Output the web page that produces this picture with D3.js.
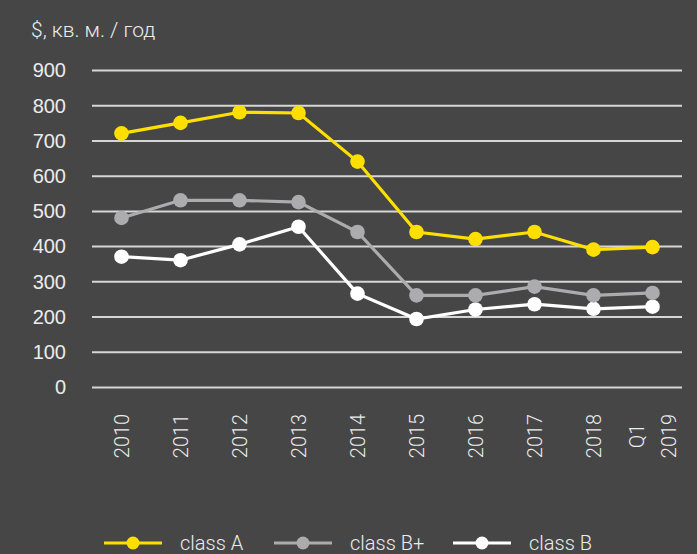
<!DOCTYPE html>
<html><head><meta charset="utf-8">
<script src="https://cdn.jsdelivr.net/npm/d3@7"></script>
<style>
html,body{margin:0;padding:0;background:#464646;}
svg{display:block;font-family:Roboto, "Noto Sans", sans-serif;}
</style></head>
<body>
<svg id="c" width="697" height="554"></svg>
<script>
const categories = ["2010","2011","2012","2013","2014","2015","2016","2017","2018","Q1 2019"];
const classA  = [720,750,780,778,640,440,420,440,390,397];
const classBp = [480,530,530,525,440,260,260,285,260,267];
const classB  = [370,360,405,455,265,193,220,235,222,228];
const yTicks  = [0,100,200,300,400,500,600,700,800,900];
const seriesNames = ["class A","class B+","class B"];
const seriesColors = ["#ffdf00","#acacae","#ffffff"];
const yTitle = "$, кв. м. / год";

const svg = d3.select("#c");
svg.append("rect").attr("width",697).attr("height",554).attr("fill","#464646");

const x = d3.scaleBand().domain(categories).range([92,682]);
const y = d3.scaleLinear().domain([0,900]).range([387,70]);
const txtCol = "#ececec";

const yAxis = d3.axisLeft(y).tickValues(yTicks).tickSize(0).tickPadding(26);
const gy = svg.append("g").attr("transform","translate(92,0)").call(yAxis);
gy.select(".domain").remove();
gy.selectAll("text").attr("fill",txtCol).style("font-size","20px").style("font-weight","300").attr("dy","0.34em");
gy.selectAll(".tick").append("line").attr("x1",0).attr("x2",590)
  .attr("stroke","#d6d6d6").attr("stroke-width",2);

svg.append("text").attr("x",31).attr("y",37).attr("fill",txtCol)
  .style("font-size","21px").style("font-weight","300").text(yTitle);

const xl = svg.append("g");
categories.forEach(c=>{
  const parts = c.split(" ");
  const cx = x(c)+x.bandwidth()/2;
  const t = xl.append("text")
    .attr("transform",`translate(${cx},436) rotate(-90)`)
    .attr("text-anchor","middle").attr("fill",txtCol)
    .style("font-size","20px").style("font-weight","300");
  if(parts.length===1){
    t.append("tspan").attr("x",0).attr("dy","0.36em").text(parts[0]);
  } else {
    t.append("tspan").attr("x",0).attr("dy","-0.44em").text(parts[0]);
    t.append("tspan").attr("x",0).attr("dy","1.6em").text(parts[1]);
  }
});

const data = [classA, classBp, classB];
const line = d3.line().x((d,i)=>x(categories[i])+x.bandwidth()/2).y(d=>y(d));
[2,1,0].forEach(k=>{
  const g = svg.append("g");
  g.append("path").datum(data[k]).attr("d",line).attr("fill","none")
    .attr("stroke",seriesColors[k]).attr("stroke-width",3.2);
  g.selectAll("circle").data(data[k]).join("circle")
    .attr("cx",(d,i)=>x(categories[i])+x.bandwidth()/2).attr("cy",d=>y(d))
    .attr("r",7.3).attr("fill",seriesColors[k]);
});

const legX = [104,274,453];
const leg = svg.append("g");
seriesNames.forEach((n,k)=>{
  const lx = legX[k];
  leg.append("line").attr("x1",lx).attr("x2",lx+58).attr("y1",543).attr("y2",543)
    .attr("stroke",seriesColors[k]).attr("stroke-width",3);
  leg.append("circle").attr("cx",lx+29).attr("cy",543).attr("r",6.5).attr("fill",seriesColors[k]);
  leg.append("text").attr("x",lx+76).attr("y",543).attr("dy","0.36em")
    .attr("fill",txtCol).style("font-size","20px").style("font-weight","300").text(n);
});
</script>
</body></html>
